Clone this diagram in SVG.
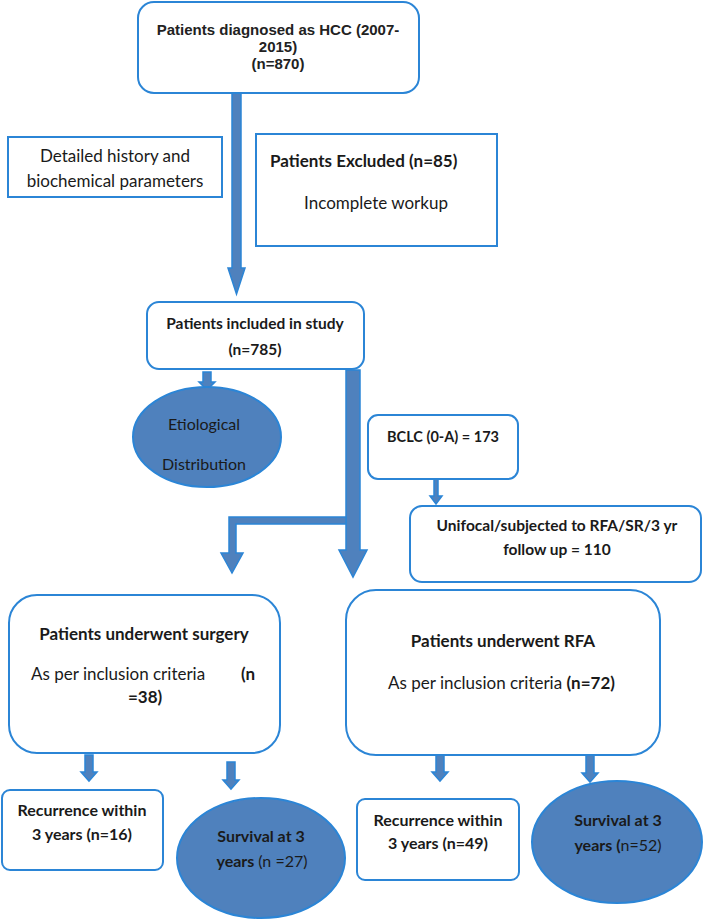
<svg xmlns="http://www.w3.org/2000/svg" width="704" height="920" viewBox="0 0 704 920">
<style>
.box{fill:#fff;stroke:#2b85d6;stroke-width:2}
.oval{fill:#4f81bd;stroke:#2b85d6;stroke-width:2}
.arr{fill:#4f81bd;stroke:#2b85d6;stroke-width:1.5;stroke-linejoin:miter}
text{font-family:Lato,"Open Sans","Liberation Sans",sans-serif;fill:#1a1a1a;font-size:17px}
.b{font-weight:bold}
.ar{font-family:"Liberation Sans",Arial,sans-serif;font-weight:bold;font-size:15px;fill:#222}
.c{text-anchor:middle}
.n{font-weight:normal}
.f155{font-size:15.5px}
.f16{font-size:16px}
.f145{font-size:14.5px}
</style>
<rect width="704" height="920" fill="#fff"/>
<g id="connectors">
<polygon class="arr" points="232,93 241,93 241,268 245,268 236.5,294 228,268 232,268"/>
<polygon class="arr" points="203,372 211,372 211,382 215,382 207,390 199,382 203,382"/>
<polygon class="arr" points="346,370 360,370 360,550 367,550 353,577 339,550 346,550"/>
<polygon class="arr" points="346,517 346,524 236,524 236,553 243,553 232,573 221,553 229,553 229,517"/>
<polygon class="arr" points="434,478 438,478 438,496 442,496 436,504 430,496 434,496"/>
<polygon class="arr" points="85,755 93,755 93,772 97,772 89,781 81,772 85,772"/>
<polygon class="arr" points="227,762 235,762 235,780 239,780 231,789 223,780 227,780"/>
<polygon class="arr" points="436,755 444,755 444,772 448,772 440,781 432,772 436,772"/>
<polygon class="arr" points="586,755 594,755 594,773 598,773 590,782 582,773 586,773"/>
</g>
<g id="n1">
<rect class="box" x="138" y="2" width="281" height="91" rx="16"/>
<text class="ar c" x="278" y="35">Patients diagnosed as HCC (2007-</text>
<text class="ar c" x="278" y="52">2015)</text>
<text class="ar c" x="278" y="69">(n=870)</text>
</g>
<g id="n2">
<rect class="box" x="8" y="137" width="214" height="60"/>
<text class="c" x="115" y="162">Detailed history and</text>
<text class="c" x="115" y="187">biochemical parameters</text>
</g>
<g id="n3">
<rect class="box" x="256" y="134" width="241" height="112"/>
<text class="b" x="270" y="167">Patients Excluded (n=85)</text>
<text class="c" x="376" y="209">Incomplete workup</text>
</g>
<g id="n4">
<rect class="box" x="147" y="302" width="217" height="67" rx="12"/>
<text class="b c f155" x="255" y="329">Patients included in study</text>
<text class="b c f155" x="255" y="355">(n=785)</text>
</g>
<g id="n5">
<ellipse class="oval" cx="207" cy="437" rx="74" ry="50"/>
<text class="c f16" x="204" y="430">Etiological</text>
<text class="c f16" x="204" y="470">Distribution</text>
</g>
<g id="n6">
<rect class="box" x="368" y="415" width="150" height="64" rx="10"/>
<text class="b c f145" x="443" y="442">BCLC (0-A) = 173</text>
</g>
<g id="n7">
<rect class="box" x="410" y="506" width="291" height="76" rx="12"/>
<text class="b c f155" x="557" y="531">Unifocal/subjected to RFA/SR/3 yr</text>
<text class="b c f155" x="557" y="555">follow up = 110</text>
</g>
<g id="n8">
<rect class="box" x="9" y="595" width="271" height="158" rx="28"/>
<text class="b c" x="144" y="640">Patients underwent surgery</text>
<text x="31" y="680">As per inclusion criteria</text>
<text class="b" x="241" y="680">(n</text>
<text class="b" x="128" y="703">=38)</text>
</g>
<g id="n9">
<rect class="box" x="346" y="590" width="314" height="165" rx="30"/>
<text class="b c" x="503" y="647">Patients underwent RFA</text>
<text x="388" y="689">As per inclusion criteria <tspan class="b">(n=72)</tspan></text>
</g>
<g id="n10">
<rect class="box" x="2" y="790" width="161" height="80" rx="8"/>
<text class="b c f16" x="82" y="816">Recurrence within</text>
<text class="b c f16" x="82" y="840">3 years (n=16)</text>
</g>
<g id="n11">
<ellipse class="oval" cx="261" cy="858" rx="84" ry="60"/>
<text class="b c f16" x="261" y="842">Survival at 3</text>
<text class="b c f16" x="262" y="867">years <tspan class="n">(n =27)</tspan></text>
</g>
<g id="n12">
<rect class="box" x="357" y="799" width="162" height="81" rx="8"/>
<text class="b c f16" x="438" y="826">Recurrence within</text>
<text class="b c f16" x="438" y="849">3 years (n=49)</text>
</g>
<g id="n13">
<ellipse class="oval" cx="617" cy="842" rx="85" ry="61"/>
<text class="b c f16" x="618" y="826">Survival at 3</text>
<text class="b c f16" x="618" y="851">years (<tspan class="n">n=52)</tspan></text>
</g>
</svg>
